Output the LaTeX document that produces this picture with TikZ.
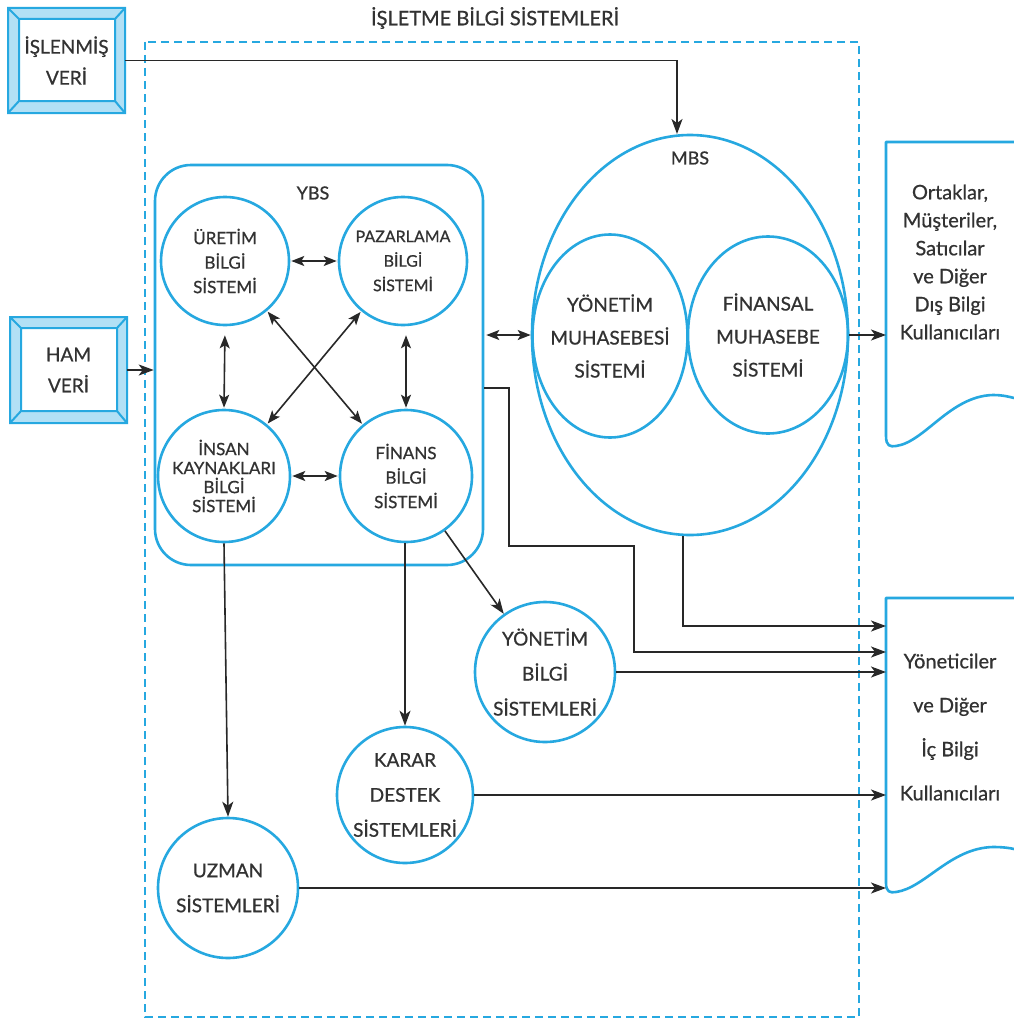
\documentclass[tikz,border=0pt]{standalone}
\usepackage{fontspec}
\setmainfont{Lato}[UprightFeatures={FakeBold=0.7}]
\usetikzlibrary{arrows.meta,shapes.geometric}
\definecolor{bsblue}{RGB}{38,168,224}
\definecolor{bevelc}{RGB}{178,224,245}
\definecolor{ink}{RGB}{50,50,50}
\definecolor{wirec}{RGB}{40,40,40}

% bevelled input box: outer corners (#1,#2)-(#3,#4)
\newcommand\bevelframe[4]{%
  \fill[bevelc] (#1,#2) rectangle (#3,#4);
  \fill[white] (#1+11,#2+11) rectangle (#3-10,#4-12);
  \draw[bsblue,line width=2pt,line join=miter]
    (#1,#2) rectangle (#3,#4)
    (#1+11,#2+11) rectangle (#3-10,#4-12)
    (#1,#2) -- (#1+11,#2+11)
    (#3,#2) -- (#3-10,#2+11)
    (#1,#4) -- (#1+11,#4-12)
    (#3,#4) -- (#3-10,#4-12);
}

\begin{document}
\begin{tikzpicture}[x=1pt,y=-1pt,
  every node/.style={text=ink},
  boxtext/.style={align=center,inner sep=0pt,minimum width=117pt,minimum height=105pt,font=\fontsize{19}{31}\selectfont},
  ybsc/.style={circle,draw=bsblue,line width=2.6pt,inner sep=0pt,minimum size=128pt,align=center,font=\fontsize{17}{24.5}\selectfont},
  bigc/.style={circle,draw=bsblue,line width=2.6pt,inner sep=0pt,minimum size=140pt,align=center,font=\fontsize{19}{35}\selectfont},
  mbse/.style={ellipse,draw=bsblue,line width=2.6pt,inner sep=0pt},
  mbstext/.style={align=center,inner sep=0pt,font=\fontsize{19}{33}\selectfont},
  doc/.style={draw=bsblue,line width=2.6pt,line join=round},
  frame/.style={draw=bsblue,line width=2pt,dash pattern=on 8pt off 5pt},
  wire/.style={draw=wirec,line width=1.6pt},
  arr/.style={wire,-{Stealth[length=15pt,width=11pt,inset=4pt]}},
  biarr/.style={wire,{Stealth[length=13pt,width=10pt,inset=3pt]}-{Stealth[length=13pt,width=10pt,inset=3pt]}},
  lbl/.style={font=\fontsize{19}{23}\selectfont,inner sep=0pt},
  doctext/.style={align=center,inner sep=0pt,font=\fontsize{20}{28}\selectfont}
]
\useasboundingbox (0,0) rectangle (1014,1025);
\fill[white] (0,0) rectangle (1014,1025);

% outer frame and title
\draw[frame] (145,42) rectangle (859,1017);
\node[lbl,font=\fontsize{20}{24}\selectfont] (title) at (495,18) {İŞLETME BİLGİ SİSTEMLERİ};

% input boxes
\bevelframe{8}{8}{125}{113}
\node[boxtext] (islenmis) at (66.5,60.5) {İŞLENMİŞ\\VERİ};
\bevelframe{10}{317}{127}{423}
\node[boxtext,minimum height=106pt] (ham) at (68.5,370) {HAM\\VERİ};

% YBS group
\node[draw=bsblue,line width=2.6pt,rounded corners=36pt,minimum width=328pt,minimum height=400pt,inner sep=0pt] (ybs) at (319,365) {};
\node[lbl,font=\fontsize{18}{22}\selectfont] (ybslbl) at (313,193) {YBS};
\node[ybsc] (uretim) at (225,261) {ÜRETİM\\BİLGİ\\SİSTEMİ};
\node[ybsc,font=\fontsize{16}{24.5}\selectfont] (pazar) at (403,261) {PAZARLAMA\\BİLGİ\\SİSTEMİ};
\node[ybsc,minimum size=132pt,font=\fontsize{17}{19}\selectfont] (insan) at (224,476) {İNSAN\\KAYNAKLARI\\BİLGİ\\SİSTEMİ};
\node[ybsc,minimum size=132pt] (finans) at (406,476) {FİNANS\\BİLGİ\\SİSTEMİ};

\draw[biarr,shorten <=1pt,shorten >=1pt] (uretim) -- (pazar);
\draw[biarr,shorten <=1pt,shorten >=1pt] (insan) -- (finans);
\draw[biarr,shorten <=9pt,shorten >=1pt] (uretim.south) -- (insan.north);
\draw[biarr,shorten <=9pt,shorten >=1pt] (pazar.south -| finans.north) -- (finans.north);
\draw[biarr,shorten <=1pt,shorten >=1pt] (uretim) -- (finans);
\draw[biarr,shorten <=1pt,shorten >=1pt] (pazar) -- (insan);

% MBS with its two accounting subsystems
\node[mbse,minimum width=316pt,minimum height=400pt] (mbs) at (690,335) {};
\node[lbl,font=\fontsize{18}{22}\selectfont] (mbslbl) at (690,158) {MBS};
\node[mbse,minimum width=155pt,minimum height=203pt] (ymuh) at (610,336) {};
\node[mbstext] (ymuhtext) at (ymuh) {YÖNETİM\\MUHASEBESİ\\SİSTEMİ};
\node[mbse,minimum width=160pt,minimum height=197pt] (fmuh) at (768,335) {};
\node[mbstext] (fmuhtext) at (fmuh) {FİNANSAL\\MUHASEBE\\SİSTEMİ};

% lower systems
\node[bigc] (ybsm) at (545,672) {YÖNETİM\\BİLGİ\\SİSTEMLERİ};
\node[bigc,minimum size=136pt] (karar) at (405,795) {KARAR\\DESTEK\\SİSTEMLERİ};
\node[bigc] (uzman) at (228,888) {UZMAN\\SİSTEMLERİ};

% information users (document shapes)
\draw[doc] (1014,142) -- (886,142) -- (886,436)
  .. controls (886,446) and (890,447) .. (896,446)
  .. controls (925,442) and (950,396) .. (993,395)
  .. controls (1003,395) and (1010,397) .. (1014,398);
\node[doctext] (dis) at (950,262) {Ortaklar,\\Müşteriler,\\Satıcılar\\ve Diğer\\Dış Bilgi\\Kullanıcıları};
\draw[doc] (1014,598) -- (886,598) -- (886,883)
  .. controls (886,892) and (890,893) .. (896,892)
  .. controls (925,888) and (950,848) .. (993,847)
  .. controls (1003,847) and (1010,848) .. (1014,849);
\node[doctext,font=\fontsize{20}{44}\selectfont] (ic) at (950,727) {Yöneticiler\\ve Diğer\\İç Bilgi\\Kullanıcıları};

\coordinate (dis in) at (886,335);
\coordinate (ic in) at (886,700);
\coordinate (mbs top) at (677,134);
\coordinate (ybs tap) at (509,546);
\coordinate (ybs drop) at (634,652);

% flows
\draw[arr] (islenmis.east) -| (mbs top);
\draw[arr] (ham.east) -- (ham.east -| ybs.west);
\draw[biarr,shorten <=2pt] (ybs.east |- mbs.west) -- (mbs.west);
\draw[arr] (mbs.east) -- (dis in);
\draw[arr] ([xshift=-7pt]mbs.south) |- (ic in |- 0,626);
\draw[arr] ([yshift=-23pt]ybs.east) -| (ybs tap) -| (ybs drop) -- (ybs drop -| ic in);
\draw[arr] (ybsm.east) -- (ybsm.east -| ic in);
\draw[arr] (karar.east) -- (karar.east -| ic in);
\draw[arr] (uzman.east) -- (uzman.east -| ic in);
\draw[arr] (insan.south) -- (uzman.north);
\draw[arr] (finans.south -| karar.north) -- (karar.north);
\draw[arr] (finans) -- (ybsm);
\end{tikzpicture}
\end{document}
